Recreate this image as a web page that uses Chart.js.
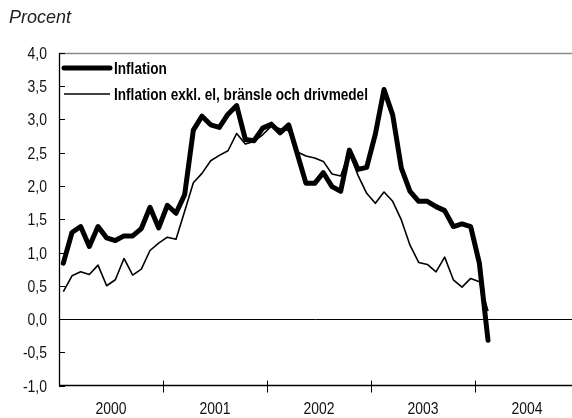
<!DOCTYPE html>
<html>
<head>
<meta charset="utf-8">
<script src="https://cdn.jsdelivr.net/npm/chart.js@4.4.1/dist/chart.umd.min.js"></script>
<style>
  html, body { margin: 0; padding: 0; background: #ffffff; overflow: hidden; }
  #wrap { position: relative; width: 572px; height: 418px; }
</style>
</head>
<body>
<div id="wrap"><canvas id="c" width="572" height="418"></canvas></div>
<script>
// ---- data (monthly, Jan 2000 .. Feb 2004) ----
const years = ['2000', '2001', '2002', '2003', '2004'];
const yTicks = [-1.0, -0.5, 0.0, 0.5, 1.0, 1.5, 2.0, 2.5, 3.0, 3.5, 4.0];
const seriesNames = ['Inflation', 'Inflation exkl. el, bränsle och drivmedel'];
const inflation = [
  0.84, 1.30, 1.39, 1.09, 1.39, 1.22, 1.18, 1.25, 1.25, 1.36, 1.68, 1.37,
  1.71, 1.59, 1.87, 2.84, 3.05, 2.92, 2.88, 3.08, 3.21, 2.70, 2.68, 2.87,
  2.93, 2.80, 2.92, 2.48, 2.04, 2.04, 2.20, 1.99, 1.92, 2.54, 2.25, 2.28,
  2.78, 3.45, 3.07, 2.27, 1.92, 1.77, 1.77, 1.69, 1.63, 1.39, 1.43, 1.39,
  0.84, -0.32
];
const inflationExkl = [
  0.41, 0.65, 0.71, 0.67, 0.81, 0.50, 0.59, 0.91, 0.66, 0.75, 1.03, 1.14,
  1.23, 1.20, 1.62, 2.05, 2.19, 2.38, 2.46, 2.53, 2.79, 2.63, 2.67, 2.77,
  2.90, 2.86, 2.83, 2.51, 2.45, 2.42, 2.37, 2.18, 2.15, 2.52, 2.16, 1.89,
  1.74, 1.91, 1.77, 1.49, 1.11, 0.85, 0.82, 0.71, 0.93, 0.59, 0.48, 0.61,
  0.56, 0.12
];

const BASEFONT = '"Liberation Sans", Arial, sans-serif';
const toPts = arr => arr.map((v, i) => ({ x: i + 0.5, y: v }));

function narrowText(ctx, text, x, y, font, align, baseline, sx) {
  ctx.save();
  ctx.translate(x, y);
  ctx.scale(sx, 1);
  ctx.font = font;
  ctx.textAlign = align;
  ctx.textBaseline = baseline;
  ctx.fillText(text, 0, 0);
  ctx.restore();
}

const frame = {
  id: 'frame',
  beforeDraw(chart) {
    const ctx = chart.ctx;
    ctx.save();
    ctx.fillStyle = '#ffffff';
    ctx.fillRect(0, 0, chart.width, chart.height);
    ctx.restore();
  },
  afterDatasetsDraw(chart) {
    const { ctx, chartArea: a, scales: { x, y } } = chart;
    ctx.save();
    // top border (grey)
    ctx.strokeStyle = '#8a8a8a';
    ctx.lineWidth = 1.5;
    ctx.beginPath(); ctx.moveTo(a.left, a.top + 0.5); ctx.lineTo(a.right, a.top + 0.5); ctx.stroke();
    // zero line
    ctx.strokeStyle = '#000';
    ctx.lineWidth = 1;
    const y0 = Math.round(y.getPixelForValue(0)) + 0.5;
    ctx.beginPath(); ctx.moveTo(a.left, y0); ctx.lineTo(a.right, y0); ctx.stroke();
    // left axis + bottom axis
    ctx.lineWidth = 1.3;
    ctx.beginPath(); ctx.moveTo(a.left + 0.5, a.top); ctx.lineTo(a.left + 0.5, a.bottom + 1); ctx.stroke();
    ctx.lineWidth = 1.5;
    ctx.beginPath(); ctx.moveTo(a.left, a.bottom); ctx.lineTo(a.right, a.bottom); ctx.stroke();
    // y tick marks (inside) + labels
    ctx.lineWidth = 1;
    ctx.fillStyle = '#111';
    yTicks.forEach(v => {
      const py = Math.round(y.getPixelForValue(v)) + 0.5;
      ctx.beginPath(); ctx.moveTo(a.left, py); ctx.lineTo(a.left + 6, py); ctx.stroke();
      narrowText(ctx, v.toFixed(1).replace('.', ','), a.left - 12, py + 1, '17px ' + BASEFONT, 'right', 'middle', 0.82);
    });
    // x tick marks at year boundaries + year labels
    for (let m = 12; m < x.max; m += 12) {
      const px = Math.round(x.getPixelForValue(m)) + 0.5;
      ctx.beginPath(); ctx.moveTo(px, a.bottom - 5); ctx.lineTo(px, a.bottom + 7); ctx.stroke();
    }
    years.forEach((yr, i) => {
      const px = x.getPixelForValue(i * 12 + 6);
      narrowText(ctx, yr, px, 414, '17px ' + BASEFONT, 'center', 'alphabetic', 0.82);
    });
    // legend
    const legendY = [a.top + 15, a.top + 41];
    const widths = [5, 1.6];
    ctx.fillStyle = '#000';
    seriesNames.forEach((name, i) => {
      ctx.lineWidth = widths[i];
      ctx.lineCap = i === 0 ? 'round' : 'butt';
      ctx.beginPath(); ctx.moveTo(a.left + 5, legendY[i]); ctx.lineTo(a.left + 51, legendY[i]); ctx.stroke();
      narrowText(ctx, name, a.left + 55, legendY[i] + 1, 'bold 17px ' + BASEFONT, 'left', 'middle', 0.8);
    });
    // unit label
    ctx.font = 'italic 18px ' + BASEFONT;
    ctx.fillStyle = '#222';
    ctx.textAlign = 'left';
    ctx.textBaseline = 'alphabetic';
    ctx.fillText('Procent', 9, 23);
    ctx.restore();
  }
};

new Chart(document.getElementById('c'), {
  type: 'line',
  data: {
    datasets: [
      { label: seriesNames[1], data: toPts(inflationExkl), borderColor: '#000', borderWidth: 1.6,
        pointRadius: 0, tension: 0, fill: false, borderJoinStyle: 'round' },
      { label: seriesNames[0], data: toPts(inflation), borderColor: '#000', borderWidth: 5,
        pointRadius: 0, tension: 0, fill: false, borderJoinStyle: 'round', borderCapStyle: 'round' }
    ]
  },
  options: {
    responsive: false,
    animation: false,
    devicePixelRatio: 1,
    layout: { padding: { top: 53, right: 0, bottom: 0, left: 0 } },
    plugins: { legend: { display: false }, tooltip: { enabled: false }, title: { display: false } },
    scales: {
      x: {
        type: 'linear',
        min: 0,
        max: (572 - 59) / 8.667,
        border: { display: false },
        grid: { display: false },
        ticks: { display: false },
        afterFit: s => { s.height = 418 - 53 - 332.5; }
      },
      y: {
        min: -1, max: 4,
        border: { display: false },
        grid: { display: false },
        ticks: { display: false },
        afterFit: s => { s.width = 59; }
      }
    }
  },
  plugins: [frame]
});
</script>
</body>
</html>
